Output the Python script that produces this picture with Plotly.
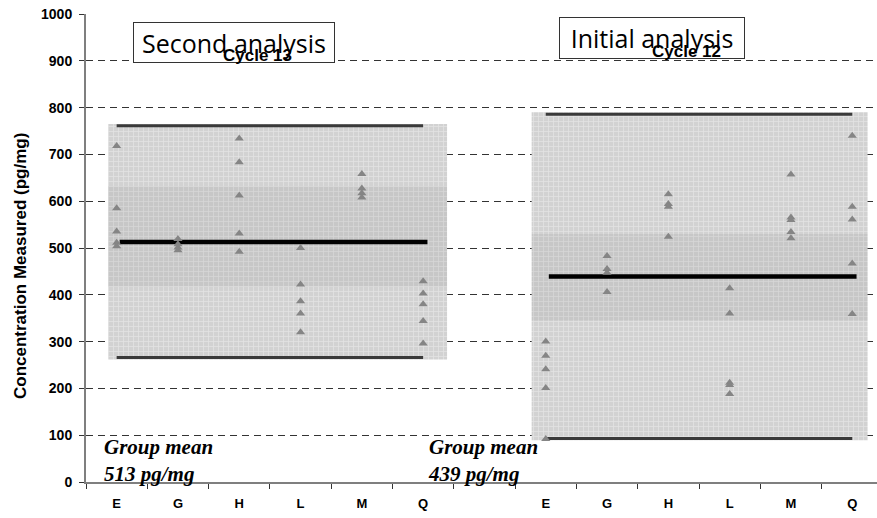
import plotly.graph_objects as go

# Category slots along the x axis (slot 6 is an empty spacer between the two runs)
left_cats = ["E", "G", "H", "L", "M", "Q"]
right_cats = ["E", "G", "H", "L", "M", "Q"]
left_pos = [0, 1, 2, 3, 4, 5]
right_pos = [7, 8, 9, 10, 11, 12]

# Individual laboratory results (pg/mg), second analysis (Cycle 13)
left_values = {
    "E": [718, 585, 535, 511, 504],
    "G": [519, 508, 501, 495],
    "H": [734, 683, 612, 531, 492],
    "L": [500, 422, 386, 360, 320],
    "M": [658, 627, 617, 608],
    "Q": [429, 403, 380, 344, 296],
}
# Individual laboratory results (pg/mg), initial analysis (Cycle 12)
right_values = {
    "E": [300, 270, 241, 201, 92],
    "G": [483, 455, 447, 406],
    "H": [615, 594, 588, 524],
    "L": [414, 360, 212, 207, 188],
    "M": [657, 565, 560, 534, 521],
    "Q": [740, 588, 561, 467, 359],
}

# Group statistics for each run
left_mean, left_upper, left_lower = 513, 761, 266
left_band = (632, 418)
right_mean, right_upper, right_lower = 439, 786, 93
right_band = (530, 345)

# Horizontal extent of the shaded acceptance areas (slot units)
left_span = (-0.14, 5.39)
right_span = (6.77, 12.25)

y_ticks = list(range(0, 1001, 100))

PX_LEFT, PX_RIGHT, PX_TOP, PX_BOTTOM = 86, 877, 14, 482
SLOT = 61.3
x_max = (PX_RIGHT - PX_LEFT) / SLOT - 0.5

def px_x(px):
    return (px - PX_LEFT) / (PX_RIGHT - PX_LEFT)

def px_y(py):
    return (PX_BOTTOM - py) / (PX_BOTTOM - PX_TOP)

fig = go.Figure()

def add_panel(span, upper, lower, band, mean, positions, cats, values):
    x0, x1 = span
    pad = 4
    # textured acceptance area
    fig.add_trace(go.Scatter(
        x=[x0, x1, x1, x0, x0],
        y=[lower - pad, lower - pad, upper + pad, upper + pad, lower - pad],
        fill="toself", mode="lines", line=dict(width=0),
        fillcolor="#d4d4d4",
        fillpattern=dict(shape="+", bgcolor="#d2d2d2", fgcolor="#f3f3f3",
                         size=5, solidity=0.3),
        hoverinfo="skip", showlegend=False))
    # darker central band
    fig.add_trace(go.Scatter(
        x=[x0, x1, x1, x0, x0],
        y=[band[1], band[1], band[0], band[0], band[1]],
        fill="toself", mode="lines", line=dict(width=0),
        fillcolor="rgba(0,0,0,0.05)",
        hoverinfo="skip", showlegend=False))
    xs = [positions[0], positions[-1]]
    for lim in (upper, lower):
        fig.add_trace(go.Scatter(x=xs, y=[lim, lim], mode="lines",
                                 line=dict(color="#3a3a3a", width=3),
                                 hoverinfo="skip", showlegend=False))
    fig.add_trace(go.Scatter(x=[positions[0] + 0.05, positions[-1] + 0.07],
                             y=[mean, mean], mode="lines",
                             line=dict(color="#000000", width=4.5),
                             hoverinfo="skip", showlegend=False))
    px, py = [], []
    for p, c in zip(positions, cats):
        for v in values[c]:
            px.append(p)
            py.append(v)
    fig.add_trace(go.Scatter(x=px, y=py, mode="markers",
                             marker=dict(symbol="triangle-up", size=8,
                                         color="#858585"),
                             showlegend=False))

add_panel(left_span, left_upper, left_lower, left_band, left_mean,
          left_pos, left_cats, left_values)
add_panel(right_span, right_upper, right_lower, right_band, right_mean,
          right_pos, right_cats, right_values)

SANS = "Liberation Sans, Arial, sans-serif"

fig.update_layout(
    width=877, height=518,
    margin=dict(l=PX_LEFT, r=0, t=PX_TOP, b=518 - PX_BOTTOM),
    paper_bgcolor="white", plot_bgcolor="white",
    showlegend=False,
    xaxis=dict(
        range=[-0.5, x_max],
        tickmode="array",
        tickvals=left_pos + right_pos,
        ticktext=[f"<b>{c}</b>" for c in left_cats + right_cats],
        ticks="", showgrid=False, zeroline=False,
        tickfont=dict(family=SANS, size=13, color="#000000"),
        ticklabelstandoff=8,
        showline=True, linecolor="#7f7f7f", linewidth=2,
        minor=dict(tickmode="array",
                   tickvals=[k - 0.5 for k in range(0, 14)],
                   ticks="outside", ticklen=5, tickcolor="#333333",
                   tickwidth=1, showgrid=False),
    ),
    yaxis=dict(
        range=[0, 1000],
        tickmode="array",
        tickvals=y_ticks,
        ticktext=[f"<b>{v}</b>" for v in y_ticks],
        ticks="outside", ticklen=5, tickcolor="#333333", tickwidth=1,
        showgrid=True, gridcolor="#333333", gridwidth=1, griddash="7px,5px",
        zeroline=False,
        showline=True, linecolor="#7f7f7f", linewidth=2,
        tickfont=dict(family=SANS, size=14, color="#000000"),
        ticklabelstandoff=4,
    ),
)

annotations = [
    dict(text="<b>Concentration Measured (pg/mg)</b>", textangle=-90,
         xref="paper", yref="paper", x=px_x(20), y=px_y(266),
         xanchor="center", yanchor="middle", showarrow=False,
         font=dict(family=SANS, size=17, color="#000000")),
    dict(text="Second analysis", xref="paper", yref="paper",
         x=px_x(234), y=px_y(42.5), xanchor="center", yanchor="middle",
         showarrow=False, width=200, height=39, borderpad=0,
         bordercolor="#333333", borderwidth=1, bgcolor="white",
         font=dict(family="Open Sans", size=25, color="#000000")),
    dict(text="Initial analysis", xref="paper", yref="paper",
         x=px_x(652), y=px_y(38), xanchor="center", yanchor="middle",
         showarrow=False, width=184, height=40, borderpad=0,
         bordercolor="#333333", borderwidth=1, bgcolor="white",
         font=dict(family="Open Sans", size=25, color="#000000")),
    dict(text="<b>Cycle 13</b>", xref="paper", yref="paper",
         x=px_x(257), y=px_y(55), xanchor="center", yanchor="middle",
         showarrow=False, font=dict(family=SANS, size=17, color="#000000")),
    dict(text="<b>Cycle 12</b>", xref="paper", yref="paper",
         x=px_x(686), y=px_y(51), xanchor="center", yanchor="middle",
         showarrow=False, font=dict(family=SANS, size=17, color="#000000")),
    dict(text=f"<b><i>Group mean<br>{left_mean} pg/mg</i></b>",
         xref="paper", yref="paper", x=px_x(102), y=px_y(460),
         xanchor="left", yanchor="middle", align="left", showarrow=False,
         font=dict(family="Liberation Serif", size=21, color="#000000")),
    dict(text=f"<b><i>Group mean<br>{right_mean} pg/mg</i></b>",
         xref="paper", yref="paper", x=px_x(426), y=px_y(460),
         xanchor="left", yanchor="middle", align="left", showarrow=False,
         font=dict(family="Liberation Serif", size=21, color="#000000")),
]
fig.update_layout(annotations=annotations)

fig.write_html("out.html")
